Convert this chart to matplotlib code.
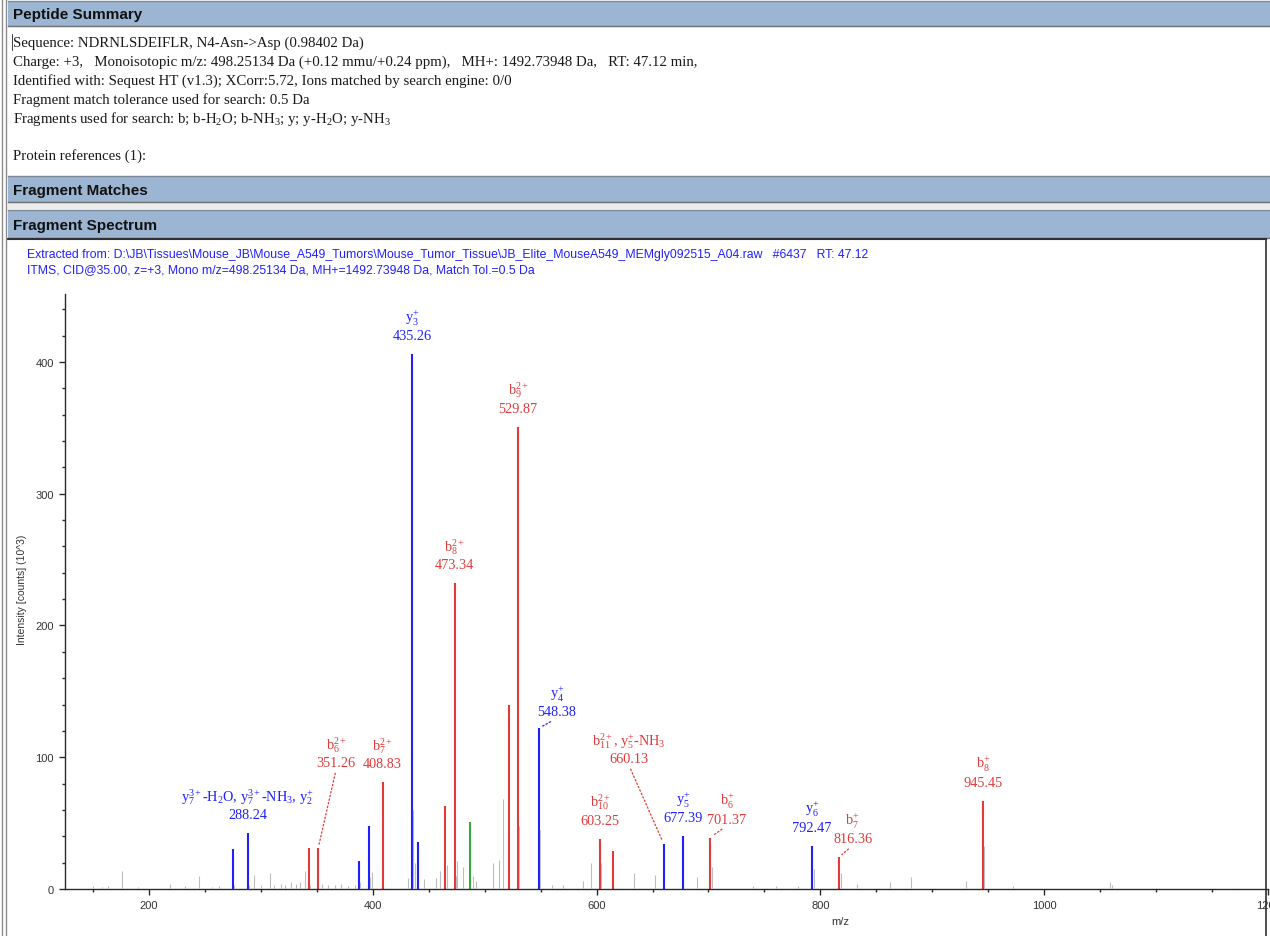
import matplotlib
matplotlib.use("Agg")
import matplotlib.pyplot as plt
from matplotlib.patches import Rectangle
from matplotlib.lines import Line2D
from matplotlib.ticker import MultipleLocator

W, H = 1270, 937

# ---- spectrum data (m/z, intensity in 10^3 counts) ----
blue_mz = [275.1, 288.24, 387.7, 396.6, 435.26, 440.4, 548.38, 660.13, 677.39, 792.47]
blue_int = [30, 42.5, 21, 48, 406, 36, 122, 34, 40, 33]

red_mz = [343.0, 351.26, 408.83, 464.6, 473.34, 521.8, 529.87, 603.25, 614.7, 701.37, 816.36, 945.45]
red_int = [31, 31, 81, 63, 232, 140, 351, 38, 29, 39, 24, 67]

green_mz = [486.9]
green_int = [51]

gray_mz = [150, 158, 163, 175.6, 190, 218.8, 232, 244.7, 256, 263, 276, 289, 293.8, 300,
           308, 312, 318, 322, 327, 331, 335, 339.4, 344, 355, 360, 366, 372, 378, 384,
           389, 397.5, 399.5, 431.5, 436.27, 437.8, 445.8, 456.5, 460.1, 466.4, 474.0,
           475.3, 480.7, 489.6, 492, 507.5, 512.8, 516.4, 530.37, 549.38, 560, 570,
           588, 595, 604.0, 633.5, 652.3, 689.8, 703.2, 740, 760, 780, 794.4, 818.5,
           832.9, 862.4, 881.1, 930.3, 946.45, 972.3, 1059, 1060.8, 1100, 1170]
gray_int = [2, 1.5, 2, 14, 1.5, 3.5, 2, 10, 1.5, 2, 3, 3, 11, 3,
            12, 3, 4, 3, 5, 4, 5, 14, 3, 4, 3, 3, 4, 2, 3,
            5, 9, 13, 8, 60, 20, 7.6, 8, 14, 18, 10,
            21, 17, 10, 6, 20, 22, 68, 48, 45, 3, 3,
            6, 20, 20, 12, 11, 9, 17, 2, 2, 2, 15, 12,
            4, 5, 9, 6, 33, 2, 5, 3, 1, 1]

# ---- annotated peaks ----
label_mz = [288.24, 351.26, 408.83, 435.26, 473.34, 529.87, 548.38, 603.25,
            660.13, 677.39, 701.37, 792.47, 816.36, 945.45]
label_ion = [r"$\mathrm{y_7^{3+}}$-H$_2$O, $\mathrm{y_7^{3+}}$-NH$_3$, $\mathrm{y_2^{+}}$",
             r"$\mathrm{b_6^{2+}}$", r"$\mathrm{b_7^{2+}}$", r"$\mathrm{y_3^{+}}$",
             r"$\mathrm{b_8^{2+}}$", r"$\mathrm{b_9^{2+}}$", r"$\mathrm{y_4^{+}}$",
             r"$\mathrm{b_{10}^{2+}}$", r"$\mathrm{b_{11}^{2+}}$, $\mathrm{y_5^{+}}$-NH$_3$",
             r"$\mathrm{y_5^{+}}$", r"$\mathrm{b_6^{+}}$", r"$\mathrm{y_6^{+}}$",
             r"$\mathrm{b_7^{+}}$", r"$\mathrm{b_8^{+}}$"]
label_series = ['y', 'b', 'b', 'y', 'b', 'b', 'y', 'b', 'b', 'y', 'b', 'y', 'b', 'b']
# label offsets from the peak top, in pixels (dx, dy); leader drawn where set
label_off = [(0, 12), (18, 79), (0, 12), (0, 12), (0, 12), (0, 12), (18, 10), (0, 12),
             (-35, 79), (0, 12), (17, 12), (0, 12), (14, 12), (0, 12)]
label_leader = [False, True, False, False, False, False, True, False,
                True, False, True, False, True, False]

summary_lines = [
    "Sequence: NDRNLSDEIFLR, N4-Asn->Asp (0.98402 Da)",
    "Charge: +3,   Monoisotopic m/z: 498.25134 Da (+0.12 mmu/+0.24 ppm),   MH+: 1492.73948 Da,   RT: 47.12 min,",
    "Identified with: Sequest HT (v1.3); XCorr:5.72, Ions matched by search engine: 0/0",
    "Fragment match tolerance used for search: 0.5 Da",
    r"Fragments used for search: b; b-H$_2$O; b-NH$_3$; y; y-H$_2$O; y-NH$_3$",
    "",
    "Protein references (1):",
]
spectrum_info = [
    r"Extracted from: D:\JB\Tissues\Mouse_JB\Mouse_A549_Tumors\Mouse_Tumor_Tissue\JB_Elite_MouseA549_MEMgly092515_A04.raw   #6437   RT: 47.12",
    "ITMS, CID@35.00, z=+3, Mono m/z=498.25134 Da, MH+=1492.73948 Da, Match Tol.=0.5 Da",
]

BLUE = '#1f1fff'
RED = '#e03a3a'
GREEN = '#3aa83a'
GRAY = '#bdbdbd'
BAR = '#9bb5d3'

plt.rcParams['mathtext.fontset'] = 'custom'
plt.rcParams['mathtext.rm'] = 'Liberation Serif'
plt.rcParams['mathtext.it'] = 'Liberation Serif:italic'
plt.rcParams['mathtext.bf'] = 'Liberation Serif:bold'

fig = plt.figure(figsize=(W / 100, H / 100), dpi=100)
fig.patch.set_facecolor('white')


def fx(x):
    return x / W


def fy(y):
    return 1 - y / H


def rect(x0, y0, x1, y1, fc, ec='none', lw=0):
    fig.patches.append(Rectangle((fx(x0), fy(y1)), (x1 - x0) / W, (y1 - y0) / H,
                                 transform=fig.transFigure, facecolor=fc,
                                 edgecolor=ec, linewidth=lw))


def hline(y, x0, x1, color, lw=1.0):
    fig.add_artist(Line2D([fx(x0), fx(x1)], [fy(y), fy(y)], transform=fig.transFigure,
                          color=color, lw=lw))


def vline(x, y0, y1, color, lw=1.0):
    fig.add_artist(Line2D([fx(x), fx(x)], [fy(y0), fy(y1)], transform=fig.transFigure,
                          color=color, lw=lw))


# ---- page layout: header bars and panels ----
for y0, y1, title in [(2, 27, "Peptide Summary"), (177, 203, "Fragment Matches"),
                      (211, 239, "Fragment Spectrum")]:
    rect(8, y0, W + 2, y1, BAR)
    hline(y0, 8, W, '#7d8a99', 1.0)
    hline(y1, 8, W, '#6f6f6f', 1.0)
    fig.text(fx(13), fy((y0 + y1) / 2 + 1), title, family='Liberation Sans', weight='bold',
             fontsize=11, color='#111111', va='center', ha='left')
rect(8, 204, W + 2, 210, '#ececec')
hline(240, 8, 1266, '#303030', 1.5)
vline(1266, 240, H, '#303030', 1.2)
vline(2, 0, H, '#8a8a8a', 1.0)
vline(6, 0, H, '#8a8a8a', 1.0)
vline(12, 35, 51, '#222222', 0.6)

for i, line in enumerate(summary_lines):
    if line:
        fig.text(fx(13), fy(43 + 18.9 * i), line, family='Liberation Serif', fontsize=10.7,
                 color='#1a1a1a', va='center', ha='left')

for i, line in enumerate(spectrum_info):
    fig.text(fx(27), fy(255 + 15 * i), line, family='Liberation Sans', fontsize=8.8,
             color='#2020ff', va='center', ha='left')

# ---- spectrum axes ----
ax = fig.add_axes([fx(65), fy(890), (1268 - 65) / W, (890 - 295) / H])
ax.set_xlim(125, 1200)
ax.set_ylim(0, 451.6)
ax.patch.set_alpha(0)

ax.vlines(blue_mz, 0, blue_int, colors=BLUE, lw=1.5, zorder=2)
ax.vlines(red_mz, 0, red_int, colors=RED, lw=1.5, zorder=2)
ax.vlines(green_mz, 0, green_int, colors=GREEN, lw=1.5, zorder=2)
ax.vlines(gray_mz, 0, gray_int, colors=GRAY, lw=0.8, zorder=3)

peak_height = dict(zip(blue_mz + red_mz + green_mz, blue_int + red_int + green_int))
for mz, ion, ser, (dx, dy), lead in zip(label_mz, label_ion, label_series, label_off,
                                        label_leader):
    col = BLUE if ser == 'y' else RED
    arrow = None
    if lead:
        arrow = dict(arrowstyle='-', color=col, lw=0.9, linestyle=(0, (1.2, 1.8)),
                     shrinkA=1, shrinkB=3, relpos=(0.5, 0.0))
    ax.annotate(ion + "\n" + f"{mz:.2f}", xy=(mz, peak_height[mz]),
                xytext=(dx * 0.72, dy * 0.72), textcoords='offset points',
                ha='center', va='bottom', multialignment='center', linespacing=1.25,
                family='Liberation Serif', fontsize=10.3, color=col,
                arrowprops=arrow, annotation_clip=False)

for side in ['top', 'right']:
    ax.spines[side].set_visible(False)
for side in ['left', 'bottom']:
    ax.spines[side].set_color('#2a2a2a')
    ax.spines[side].set_linewidth(1.0)

ax.xaxis.set_major_locator(MultipleLocator(200))
ax.xaxis.set_minor_locator(MultipleLocator(50))
ax.yaxis.set_major_locator(MultipleLocator(100))
ax.yaxis.set_minor_locator(MultipleLocator(20))
ax.tick_params(which='major', length=4, width=1, color='#2a2a2a', labelsize=8,
               labelcolor='#333333', pad=4)
ax.tick_params(which='minor', length=2, width=1, color='#2a2a2a')
for lab in ax.get_xticklabels() + ax.get_yticklabels():
    lab.set_family('Liberation Sans')

fig.text(fx(22), fy(590), "Intensity [counts] (10^3)", rotation=90, family='Liberation Sans',
         fontsize=7.5, color='#333333', ha='center', va='center')
fig.text(fx(840), fy(922), "m/z", family='Liberation Sans', fontsize=8,
         color='#333333', ha='center', va='center')

fig.savefig("out.png", dpi=100)
